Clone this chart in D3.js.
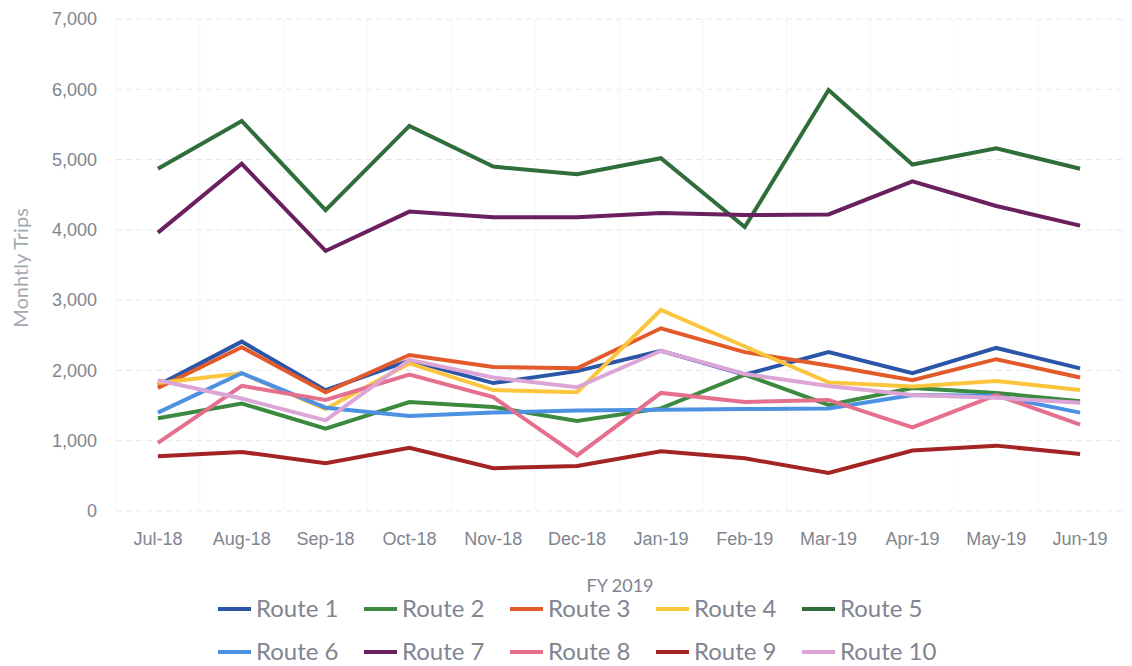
<!DOCTYPE html>
<html>
<head>
<meta charset="utf-8">
<script src="https://cdn.jsdelivr.net/npm/d3@7"></script>
<style>
  body { margin: 0; background: #fff; }
  svg { font-family: Lato, "Open Sans", sans-serif; }
</style>
</head>
<body>
<div id="chart"></div>
<script>
// months on the x axis
const months = ["Jul-18","Aug-18","Sep-18","Oct-18","Nov-18","Dec-18","Jan-19","Feb-19","Mar-19","Apr-19","May-19","Jun-19"];
const yTicks = [0, 1000, 2000, 3000, 4000, 5000, 6000, 7000];

// monthly trips per route
const route1  = [1790, 2410, 1720, 2140, 1820, 1990, 2280, 1940, 2260, 1960, 2320, 2030];
const route2  = [1320, 1530, 1170, 1550, 1480, 1280, 1460, 1940, 1510, 1750, 1680, 1560];
const route3  = [1750, 2330, 1690, 2220, 2050, 2030, 2600, 2260, 2070, 1860, 2160, 1900];
const route4  = [1820, 1960, 1450, 2100, 1720, 1690, 2860, 2340, 1830, 1770, 1850, 1720];
const route5  = [4870, 5550, 4280, 5480, 4900, 4790, 5020, 4040, 5990, 4930, 5160, 4870];
const route6  = [1400, 1960, 1470, 1350, 1400, 1430, 1440, 1450, 1460, 1650, 1640, 1400];
const route7  = [3960, 4940, 3700, 4260, 4180, 4180, 4240, 4210, 4220, 4690, 4340, 4060];
const route8  = [970, 1780, 1580, 1940, 1620, 790, 1680, 1550, 1580, 1190, 1650, 1230];
const route9  = [780, 840, 680, 900, 610, 640, 850, 750, 540, 860, 930, 810];
const route10 = [1860, 1600, 1290, 2150, 1900, 1760, 2280, 1950, 1780, 1650, 1610, 1540];

const routeNames = ["Route 1","Route 2","Route 3","Route 4","Route 5","Route 6","Route 7","Route 8","Route 9","Route 10"];
const routeValues = [route1, route2, route3, route4, route5, route6, route7, route8, route9, route10];
const routeColors = ["#2b56a8","#3b8a40","#e2592a","#fcc53e","#2f6e3b","#4d92e2","#6a1f5e","#e5708e","#a42424","#dca5d6"];

const W = 1132, H = 666;
const margin = {top: 19, right: 10, bottom: 155, left: 116};
const plotW = 1122 - margin.left;
const plotH = 511 - margin.top;

const svg = d3.select("#chart").append("svg")
    .attr("width", W)
    .attr("height", H);

const g = svg.append("g")
    .attr("transform", `translate(${margin.left},${margin.top})`);

const x = d3.scaleBand().domain(months).range([0, plotW]);
const y = d3.scaleLinear().domain([0, 7000]).range([plotH, 0]);

const textColor = "#7f8590";

// horizontal grid
g.append("g").selectAll("line")
    .data(yTicks)
    .enter().append("line")
    .attr("x1", 0).attr("x2", plotW)
    .attr("y1", d => y(d)).attr("y2", d => y(d))
    .attr("stroke", "#e6e8ee")
    .attr("stroke-dasharray", "6,4")
    .attr("stroke-width", 1);

// vertical grid between the categories
g.append("g").selectAll("line")
    .data(months.concat(["end"]))
    .enter().append("line")
    .attr("x1", (d, i) => i * x.bandwidth()).attr("x2", (d, i) => i * x.bandwidth())
    .attr("y1", 0).attr("y2", plotH)
    .attr("stroke", "#eef0f4")
    .attr("stroke-dasharray", "4,4")
    .attr("stroke-width", 1);

// y axis labels
const yAxis = g.append("g")
    .call(d3.axisLeft(y).tickValues(yTicks).tickFormat(d3.format(",")).tickSize(0).tickPadding(19));
yAxis.select(".domain").remove();
yAxis.selectAll("text")
    .attr("fill", textColor)
    .style("font-size", "18px");

// x axis labels
const xAxis = g.append("g")
    .attr("transform", `translate(0,${plotH})`)
    .call(d3.axisBottom(x).tickSize(0).tickPadding(21));
xAxis.select(".domain").remove();
xAxis.selectAll("text")
    .attr("fill", textColor)
    .style("font-size", "18px");

// axis titles
svg.append("text")
    .attr("transform", "translate(28,268) rotate(-90)")
    .attr("text-anchor", "middle")
    .attr("fill", "#a3a8b0")
    .style("font-size", "20px")
    .text("Monhtly Trips");

svg.append("text")
    .attr("x", 620).attr("y", 592)
    .attr("text-anchor", "middle")
    .attr("fill", textColor)
    .style("font-size", "18px")
    .text("FY 2019");

// the lines
const line = d3.line()
    .x((d, i) => x(months[i]) + x.bandwidth() / 2)
    .y(d => y(d));

routeValues.forEach((vals, k) => {
    g.append("path")
        .datum(vals)
        .attr("fill", "none")
        .attr("stroke", routeColors[k])
        .attr("stroke-width", 4)
        .attr("stroke-linejoin", "miter")
        .attr("d", line);
});

// legend, two rows of five
const legend = svg.append("g");
routeNames.forEach((name, k) => {
    const col = k % 5, row = Math.floor(k / 5);
    const lx = 218 + col * 146;
    const ly = 609 + row * 43;
    legend.append("line")
        .attr("x1", lx).attr("x2", lx + 33)
        .attr("y1", ly).attr("y2", ly)
        .attr("stroke", routeColors[k])
        .attr("stroke-width", 4);
    legend.append("text")
        .attr("x", lx + 38).attr("y", ly)
        .attr("dy", "0.35em")
        .attr("fill", textColor)
        .style("font-size", "24px")
        .text(name);
});
</script>
</body>
</html>
